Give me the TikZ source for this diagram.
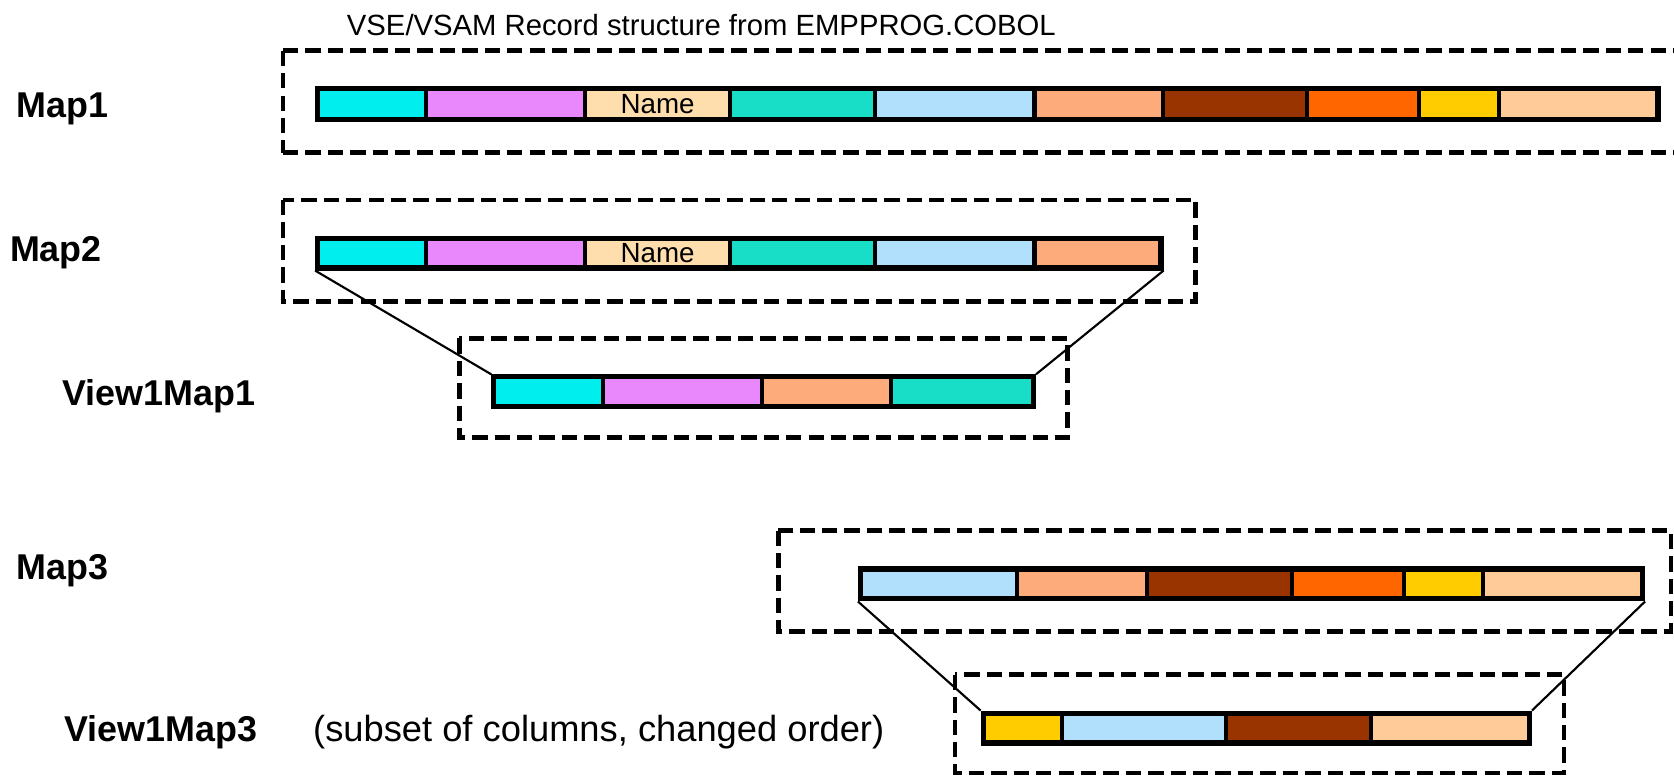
\documentclass[tikz,border=0pt]{standalone}
\usepackage{fontspec}
\setmainfont{Liberation Sans}
\definecolor{ccyan}{HTML}{00EEEE}
\definecolor{cviolet}{HTML}{E888FC}
\definecolor{cname}{HTML}{FFDEAD}
\definecolor{cteal}{HTML}{18DEC8}
\definecolor{cblue}{HTML}{B0E0FC}
\definecolor{csalmon}{HTML}{FDAB7B}
\definecolor{cbrown}{HTML}{993300}
\definecolor{corange}{HTML}{FF6600}
\definecolor{cgold}{HTML}{FFCC00}
\definecolor{cpeach}{HTML}{FFCC99}
\tikzset{
 segbox/.style={draw=black, line width=1.9pt, inner sep=0pt, outer sep=0pt, rectangle},
 barframe/.style={draw=black, line width=2.4pt, inner sep=0pt, rectangle},
 dashbox/.style={draw=black, line width=2.1pt, dash pattern=on 7.2pt off 3.3pt},
 link/.style={draw=black, line width=1pt},
 maplabel/.style={anchor=base west, inner sep=0pt, font=\fontsize{16.8}{18}\selectfont\bfseries},
 plaintext/.style={anchor=base west, inner sep=0pt, font=\fontsize{17}{18}\selectfont},
 titletext/.style={anchor=base west, inner sep=0pt, font=\fontsize{13.7}{15}\selectfont},
}
\newcommand\segnode[7]{%
 \node[segbox, fill=#6, minimum width={(#3-#2)*0.5pt}, minimum height={(#5-#4)*0.5pt}] (#1) at ({(#2+#3)/2},{(#4+#5)/2}) {#7};}
\newcommand\barnode[5]{%
 \node[barframe, minimum width={(#3-#2)*0.5pt}, minimum height={(#5-#4)*0.5pt}] (#1) at ({(#2+#3)/2},{(#4+#5)/2}) {};}
\newcommand\nametext{\fontsize{13}{14}\selectfont Name}
\begin{document}
\begin{tikzpicture}[x=0.5pt,y=-0.5pt]
\useasboundingbox (0,0) rectangle (1568,726);

% title and labels
\node[titletext] (title) at (324.6,32.8) {VSE/VSAM Record structure from EMPPROG.COBOL};
\node[maplabel] (lmap1) at (15,109.6) {Map1};
\node[maplabel] (lmap2) at (9,245) {Map2};
\node[maplabel] (lv1m1) at (58,379.5) {View1Map1};
\node[maplabel] (lmap3) at (15,543) {Map3};
\node[maplabel] (lv1m3) at (60,694.7) {View1Map3};
\node[plaintext] (subset) at (293,694.7) {(subset of columns, changed order)};

% dashed boxes
\draw[dashbox] (265,47.5) -- (1600,47.5);
\draw[dashbox] (265,143) -- (1600,143);
\draw[dashbox] (265,47.5) -- (265,143);
\draw[dashbox] (265,187.3) rectangle (1120,282.6);
\draw[dashbox] (430.3,317) rectangle (1000,410);
\draw[dashbox] (729,497) rectangle (1565,591.7);
\draw[dashbox] (894.5,632) rectangle (1465,724);

% Map1
\segnode{m1a}{297.5}{399}{83}{112}{ccyan}{}
\segnode{m1b}{399}{548}{83}{112}{cviolet}{}
\segnode{m1c}{548}{684}{83}{112}{cname}{\nametext}
\segnode{m1d}{684}{820}{83}{112}{cteal}{}
\segnode{m1e}{820}{969}{83}{112}{cblue}{}
\segnode{m1f}{969}{1089}{83}{112}{csalmon}{}
\segnode{m1g}{1089}{1224}{83}{112}{cbrown}{}
\segnode{m1h}{1224}{1329}{83}{112}{corange}{}
\segnode{m1i}{1329}{1404}{83}{112}{cgold}{}
\segnode{m1j}{1404}{1553}{83}{112}{cpeach}{}
\barnode{m1}{297.5}{1553}{83}{112}

% Map2
\segnode{m2a}{297.5}{399}{223}{251}{ccyan}{}
\segnode{m2b}{399}{548}{223}{251}{cviolet}{}
\segnode{m2c}{548}{684}{223}{251}{cname}{\nametext}
\segnode{m2d}{684}{820}{223}{251}{cteal}{}
\segnode{m2e}{820}{969}{223}{251}{cblue}{}
\segnode{m2f}{969}{1087.5}{223}{251}{csalmon}{}
\barnode{m2}{297.5}{1087.5}{223}{251}

% View1Map1
\segnode{v1a}{462.5}{565}{353}{381}{ccyan}{}
\segnode{v1b}{565}{714}{353}{381}{cviolet}{}
\segnode{v1c}{714}{834.5}{353}{381}{csalmon}{}
\segnode{v1d}{834.5}{968}{353}{381}{cteal}{}
\barnode{v1}{462.5}{968}{353}{381}

% Map3
\segnode{m3a}{806}{953}{533}{561}{cblue}{}
\segnode{m3b}{953}{1074}{533}{561}{csalmon}{}
\segnode{m3c}{1074}{1210}{533}{561}{cbrown}{}
\segnode{m3d}{1210}{1315}{533}{561}{corange}{}
\segnode{m3e}{1315}{1389}{533}{561}{cgold}{}
\segnode{m3f}{1389}{1538.5}{533}{561}{cpeach}{}
\barnode{m3}{806}{1538.5}{533}{561}

% View1Map3
\segnode{v3a}{921}{995}{668}{696}{cgold}{}
\segnode{v3b}{995}{1148.5}{668}{696}{cblue}{}
\segnode{v3c}{1148.5}{1284}{668}{696}{cbrown}{}
\segnode{v3d}{1284}{1432.5}{668}{696}{cpeach}{}
\barnode{v3}{921}{1432.5}{668}{696}

% connectors
\draw[link] (m2.south west) -- (v1.north west);
\draw[link] (m2.south east) -- (v1.north east);
\draw[link] (m3.south west) -- (v3.north west);
\draw[link] (m3.south east) -- (v3.north east);
\end{tikzpicture}
\end{document}
